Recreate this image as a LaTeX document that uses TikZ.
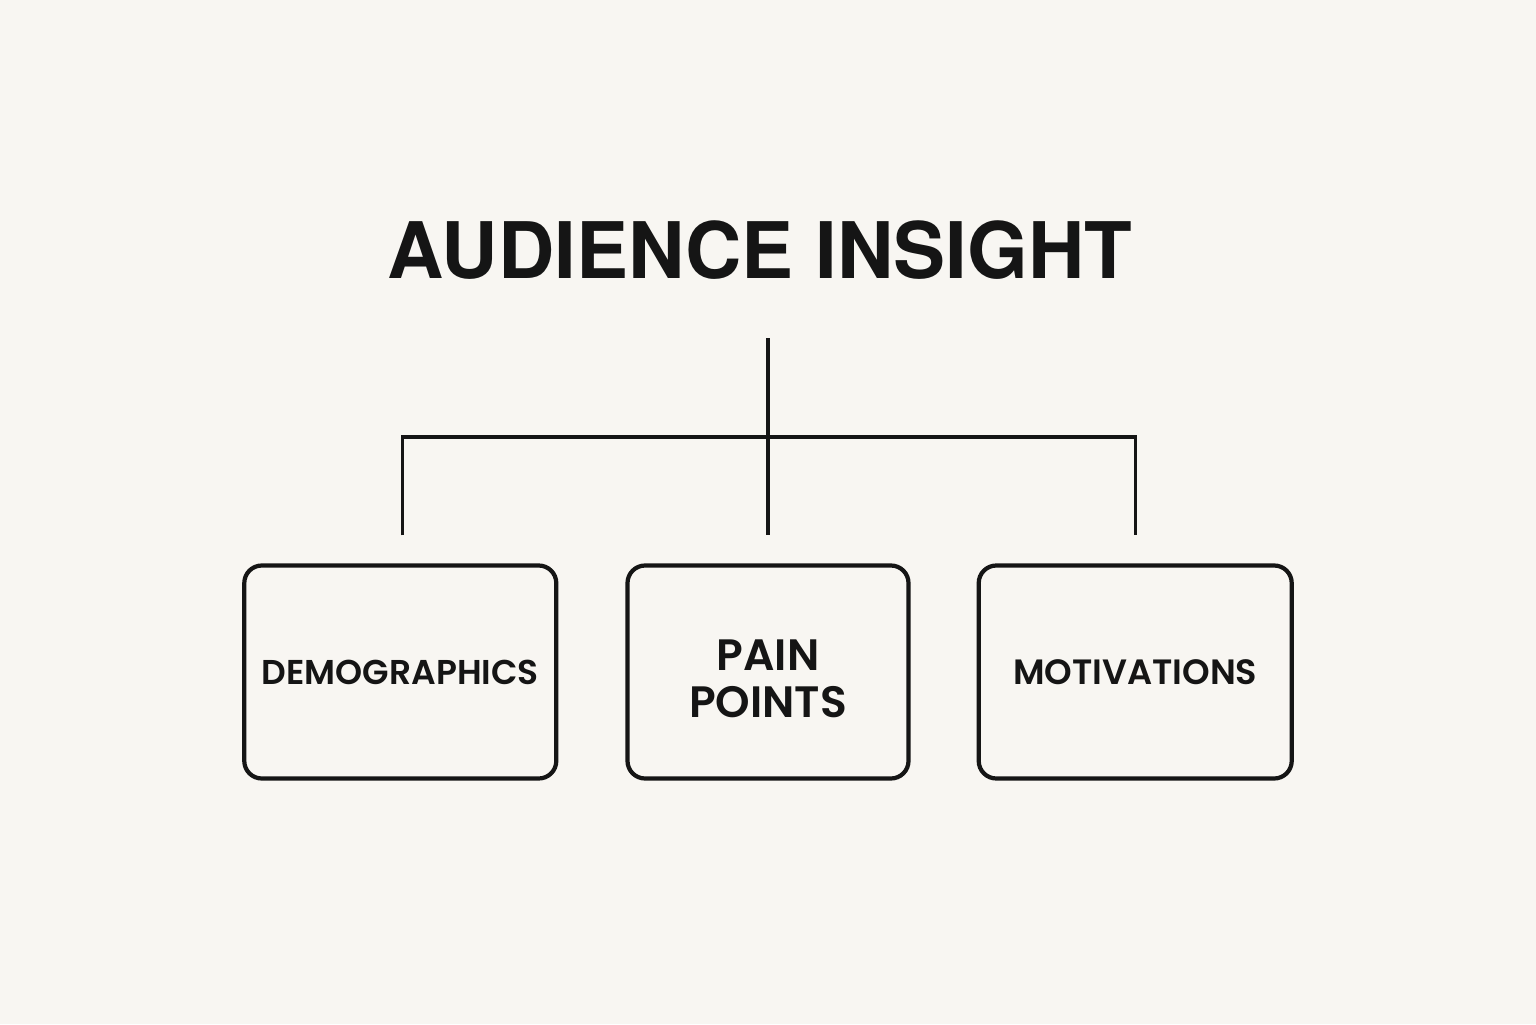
\documentclass[tikz,border=0pt]{standalone}
\usepackage{fontspec}
\setmainfont{TeX Gyre Heros}
\newfontfamily\boxfont[BoldFont={Poppins SemiBold}]{Poppins}
\usetikzlibrary{positioning}
\usetikzlibrary{calc}
\definecolor{paper}{HTML}{F8F6F2}
\definecolor{ink}{HTML}{151515}

\begin{document}
\begin{tikzpicture}
		\fill [paper] (0,0) rectangle (15.36,10.24);
		\useasboundingbox (0,0) rectangle (15.36,10.24);
		\tikzset{topic/.style={draw=ink, line width=1.2pt, rounded corners=5pt, minimum height=2.13cm, align=center, text=ink, inner sep=0pt},
			link/.style={draw=ink, line width=0.9pt}}
		\node at (7.60,7.45) [anchor=base, text=ink, font=\fontsize{22.2}{26}\selectfont\bfseries] (title) {AUDIENCE INSIGHT};
		\node at (7.68,3.52) [topic, minimum width=2.81cm, font=\boxfont\fontsize{12.5}{13.5}\selectfont\bfseries] (pain) {\rule{0pt}{12.7pt}PAIN\\POINTS};
		\node [left=0.67cm of pain, topic, minimum width=3.12cm, font=\boxfont\fontsize{9.8}{11}\selectfont\bfseries] (demo) {DEMOGRAPHICS};
		\node [right=0.66cm of pain, topic, minimum width=3.13cm, font=\boxfont\fontsize{10}{11}\selectfont\bfseries] (motiv) {MOTIVATIONS};
		
		% free ends of the tree lines
		\coordinate (stemtop) at (7.68,6.86);
		\coordinate (fork) at (7.68,5.87);
		\coordinate (demoin) at ($(demo.north)+(0.02,0.28)$);
		\coordinate (painin) at ($(pain.north)+(0,0.28)$);
		\coordinate (motivin) at ($(motiv.north)+(0,0.28)$);
		\draw [link] (stemtop) -- (painin);
		\draw [link] (demoin) |- (fork) -| (motivin);
\end{tikzpicture}
\end{document}
